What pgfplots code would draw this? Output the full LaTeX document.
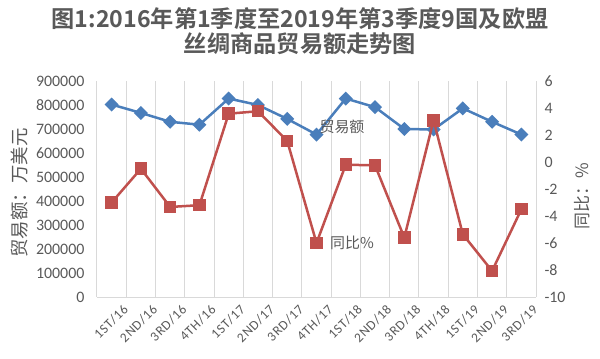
\documentclass[border=0pt]{standalone}
\usepackage{fontspec}
\setmainfont{Carlito}
\newfontfamily\cjk{Noto Sans CJK SC}
\newfontfamily\cjkb{Noto Sans CJK SC Bold}
\newfontfamily\xlab{Carlito}[LetterSpace=6]
\usepackage{pgfplots}
\pgfplotsset{compat=1.18}
\definecolor{bl}{HTML}{4A7EBB}
\definecolor{rd}{HTML}{C0504D}
\definecolor{tx}{HTML}{595959}
\definecolor{gr}{HTML}{D9D9D9}
\begin{document}
\begin{tikzpicture}
\begin{axis}[
  scale only axis, width=439bp, height=216bp,
  xmin=0.5, xmax=15.5, ymin=0, ymax=900000,
  axis x line*=bottom, axis y line*=left,
  y axis line style={draw=none},
  x axis line style={gr, line width=1bp},
  xtick={1,...,15},
  xticklabels={1ST/16,2ND/16,3RD/16,4TH/16,1ST/17,2ND/17,3RD/17,4TH/17,1ST/18,2ND/18,3RD/18,4TH/18,1ST/19,2ND/19,3RD/19},
  major tick length=0pt, minor tick length=0pt,
  minor xtick={0.5,1.5,...,15.5}, xminorgrids=true,
  minor grid style={gr, line width=1bp},
  ytick={0,100000,...,900000},
  scaled y ticks=false,
  /pgf/number format/assume math mode=true,
  yticklabel={\pgfmathprintnumber[fixed,1000 sep={},assume math mode=true]{\tick}},
  tick label style={text=tx},
  yticklabel style={font=\fontsize{16}{16}\selectfont, xshift=-9bp},
  xticklabel style={font=\xlab\fontsize{13.5}{13.5}\selectfont, rotate=45, anchor=north east, inner sep=0pt, xshift=3bp, yshift=-12bp},
  clip=false,
]
\addplot[bl, line width=2.5bp, mark=square*, mark size=3.7bp, mark options={rotate=45, solid}] coordinates {
(1,802000) (2,767000) (3,730000) (4,718000) (5,827000) (6,800000) (7,742000) (8,677000)
(9,827000) (10,791000) (11,700000) (12,698000) (13,786000) (14,730000) (15,677000)};
\end{axis}
\begin{axis}[
  scale only axis, width=439bp, height=216bp,
  xmin=0.5, xmax=15.5, ymin=-10, ymax=6,
  axis x line=none, axis y line*=right,
  y axis line style={draw=none},
  major tick length=0pt,
  ytick={-10,-8,...,6},
  /pgf/number format/assume math mode=true,
  yticklabel={\pgfmathprintnumber[assume math mode=true]{\tick}},
  yticklabel style={font=\fontsize{16}{16}\selectfont, text=tx, xshift=5bp},
  clip=false,
]
\addplot[rd, line width=2.5bp, mark=square*, mark size=5bp, mark options={solid}] coordinates {
(1,-3.0) (2,-0.5) (3,-3.33) (4,-3.2) (5,3.58) (6,3.76) (7,1.56) (8,-6.0)
(9,-0.2) (10,-0.25) (11,-5.6) (12,3.09) (13,-5.36) (14,-8.07) (15,-3.5)};
\end{axis}
\coordinate (O) at ([xshift=-97bp,yshift=-62bp]current axis.south west);
\node[font=\cjkb\fontsize{23.3}{23.3}\selectfont, text=tx] at ([shift={(300bp,340bp)}]O) {图1:2016年第1季度至2019年第3季度9国及欧盟};
\node[font=\cjkb\fontsize{23.3}{23.3}\selectfont, text=tx] at ([shift={(300bp,315bp)}]O) {丝绸商品贸易额走势图};
\node[font=\cjk\fontsize{18.5}{18.5}\selectfont, text=tx, rotate=90] at ([shift={(20bp,166bp)}]O) {贸易额：万美元};
\node[font=\cjk\fontsize{17}{17}\selectfont, text=tx, rotate=90] at ([shift={(582bp,163bp)}]O) {同比：\%};
\node[font=\cjk\fontsize{15}{15}\selectfont, text=tx] at ([shift={(342bp,232bp)}]O) {贸易额};
\node[font=\cjk\fontsize{15}{15}\selectfont, text=tx] at ([shift={(352bp,116bp)}]O) {同比\%};
\pgfresetboundingbox
\path (O) rectangle ([shift={(600bp,359bp)}]O);
\end{tikzpicture}
\end{document}
